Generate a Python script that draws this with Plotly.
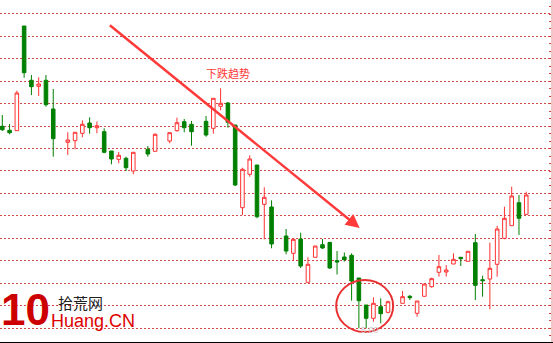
import plotly.graph_objects as go

# trading-day index (gaps = days with no candle drawn)
day_index = [0, 1, 2, 3, 4, 5, 6, 7, 9, 10, 11, 12, 13, 14, 15, 16, 17, 18, 20, 21,
             23, 24, 25, 26, 28, 29, 30, 31, 32, 33, 34, 35, 36, 37, 39, 40, 41, 42, 43, 44,
             45, 46, 47, 48, 49, 50, 51, 52, 53, 55, 56, 57, 58, 59, 60, 61, 62, 63, 64, 65,
             66, 67, 68, 69, 70, 71, 72]
open_ = [21.67, 21.27, 21.23, 31.70, 26.27, 25.67, 26.27, 23.40, 20.07, 20.23,
         20.97, 22.00, 21.53, 21.13, 19.20, 18.37, 18.47, 17.20, 19.37, 19.17,
         20.20, 21.23, 22.13, 21.87, 22.17, 21.47, 23.67, 24.00, 21.80, 13.53,
         16.87, 17.80, 13.87, 13.60, 10.70, 8.97, 10.40, 6.07, 8.57, 9.83,
         10.05, 8.23, 8.60, 8.77, 6.50, 3.80, 2.47, 3.63, 3.07, 3.97,
         4.67, 2.97, 4.67, 5.63, 7.07, 7.10, 7.90, 8.57, 8.17, 10.03,
         6.33, 6.40, 7.87, 10.47, 11.73, 14.03, 12.87]
high = [22.80, 21.90, 25.23, 31.70, 26.80, 26.57, 26.80, 25.40, 21.07, 21.07,
        22.27, 22.57, 22.15, 21.47, 19.20, 19.10, 18.63, 19.07, 19.70, 20.97,
        21.03, 22.53, 22.40, 22.20, 22.70, 24.47, 25.47, 24.10, 21.80, 17.53,
        18.77, 17.80, 15.57, 14.27, 11.40, 10.40, 11.03, 8.57, 9.70, 10.40,
        10.13, 9.20, 9.05, 8.97, 6.50, 3.80, 4.57, 4.47, 4.23, 5.20,
        4.80, 4.20, 5.90, 6.53, 8.80, 7.80, 8.97, 8.57, 9.17, 10.90,
        6.73, 10.03, 11.70, 13.63, 15.63, 14.80, 15.13]
low = [21.20, 20.87, 21.20, 26.53, 24.80, 24.70, 23.63, 18.63, 18.80, 19.37,
       20.57, 20.93, 20.97, 18.97, 17.87, 17.97, 17.20, 16.87, 18.63, 19.17,
       19.97, 21.13, 21.07, 19.73, 20.63, 20.93, 23.27, 21.53, 15.70, 12.80,
       16.63, 12.47, 10.37, 9.47, 8.87, 8.23, 7.50, 6.07, 8.57, 9.40,
       7.40, 6.85, 8.15, 4.23, 1.47, 1.47, 2.13, 1.97, 2.97, 3.97,
       4.30, 2.63, 4.67, 5.53, 6.63, 6.63, 7.90, 7.70, 8.17, 4.30,
       4.63, 3.37, 6.63, 10.37, 11.73, 10.80, 12.87]
close = [21.33, 21.03, 25.00, 27.03, 25.63, 25.90, 23.83, 20.43, 20.30, 21.07,
         21.87, 21.53, 21.73, 19.07, 18.40, 18.77, 17.53, 19.07, 18.90, 20.87,
         21.03, 22.03, 21.53, 21.13, 20.80, 24.47, 23.97, 22.07, 15.80, 17.37,
         18.40, 12.63, 14.57, 9.90, 9.20, 10.37, 7.70, 7.87, 9.70, 9.50,
         7.50, 8.10, 8.33, 6.20, 4.23, 2.47, 3.97, 2.93, 4.13, 4.63,
         4.53, 4.20, 5.90, 6.43, 7.63, 7.30, 8.37, 8.43, 9.17, 5.77,
         6.23, 7.47, 11.40, 12.47, 14.70, 12.47, 14.80]

trend_label = "下跌趋势"
low_label = "5.00"
site_name = "拾荒网"
site_domain = "Huang.CN"
logo_digits = "10"

fig = go.Figure()
fig.add_trace(go.Candlestick(
    x=day_index, open=open_, high=high, low=low, close=close,
    increasing=dict(line=dict(color="#ff3030", width=1), fillcolor="#ffffff"),
    decreasing=dict(line=dict(color="#008000", width=1), fillcolor="#008000"),
    whiskerwidth=0, hoverinfo="skip", showlegend=False,
))

# trend arrow
fig.add_annotation(x=49.1, y=11.5, ax=14.57, ay=31.9, xref="x", yref="y",
                   axref="x", ayref="y", text="", showarrow=True,
                   arrowhead=2, arrowsize=1.1, arrowwidth=2.5, arrowcolor="#ff3a3a")
fig.add_annotation(x=31.0, y=27.05, text=trend_label, showarrow=False,
                   font=dict(family="Noto Sans CJK SC", size=11, color="#ff3a3a"))
# circle around the bottom
fig.add_shape(type="circle", xref="x", yref="y", x0=45.88, x1=53.71, y0=1.1, y1=6.3,
              line=dict(color="#e83030", width=2))
fig.add_annotation(x=50.5, y=1.3, text=low_label, showarrow=False,
                   font=dict(family="Liberation Sans", size=9, color="#cccccc"))

# logo
fig.add_annotation(xref="paper", yref="paper", x=0.0, y=0.095, xanchor="left",
                   yanchor="middle", text="<b>" + logo_digits + "</b>", showarrow=False,
                   borderpad=0, font=dict(family="Liberation Sans", size=44, color="#cc0000"))
fig.add_annotation(xref="paper", yref="paper", x=0.147, y=0.1155, xanchor="center",
                   yanchor="middle", text=site_name, showarrow=False, borderpad=0,
                   font=dict(family="Noto Sans CJK SC", size=15, color="#222222"))
fig.add_annotation(xref="paper", yref="paper", x=0.0907, y=0.06, xanchor="left",
                   yanchor="middle", text=site_domain, showarrow=False, borderpad=0,
                   font=dict(family="Liberation Sans", size=18, color="#dd0000"))

fig.update_layout(
    width=553, height=343,
    margin=dict(l=0, r=2, t=0, b=1),
    paper_bgcolor="white", plot_bgcolor="white",
    showlegend=False,
    xaxis=dict(range=[-0.316, 75.4], showgrid=False, zeroline=False, showticklabels=False,
               showline=True, linecolor="black", linewidth=2, rangeslider=dict(visible=False),
               ticks=""),
    yaxis=dict(range=[0.1, 34.3], tick0=1.5, dtick=2.243, showgrid=True,
               gridcolor="#d04848", griddash="2px,2px", gridwidth=1,
               zeroline=False, showticklabels=False, side="right",
               showline=True, linecolor="#f2c6c6", linewidth=3, ticks="",
               minor=dict(ticks="inside", ticklen=2, tickcolor="#d04040", dtick=0.7477,
                          showgrid=False)),
)

fig.write_html("out.html")
